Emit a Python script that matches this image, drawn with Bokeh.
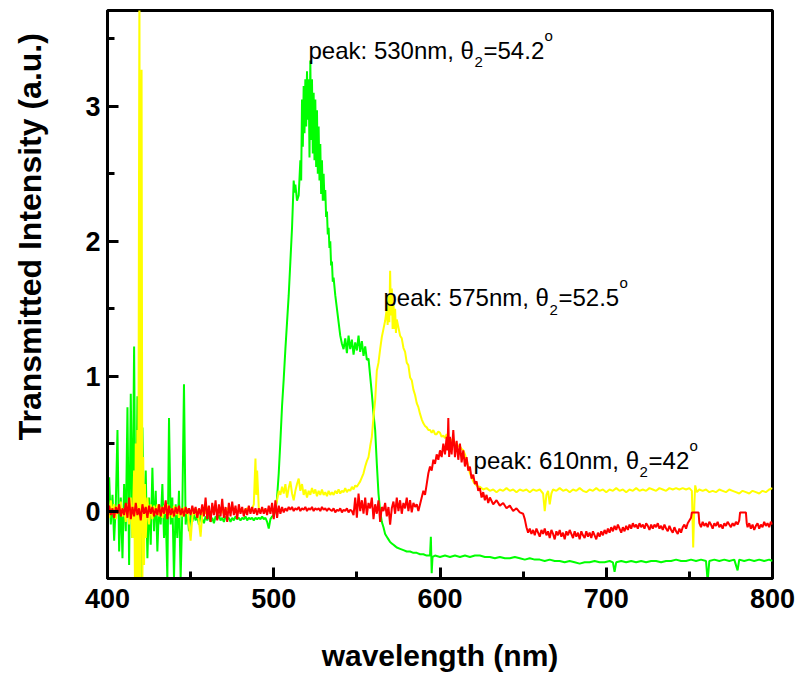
from bokeh.plotting import figure
from bokeh.models import Range1d, Label, FixedTicker
from bokeh.embed import file_html
from bokeh.resources import INLINE

# ---------------- data (wavelength nm, transmitted intensity a.u.) ----------------
green_pts = [
    (400,0.05),(401,0.25),(402,-0.1),(403,0.12),(404,-0.22),(405,0.05),(406,0.6),(407,-0.3),(408,0.1),(409,-0.35),
    (410,0.2),(411,-0.15),(412,0.77),(413,-0.4),(414,0.87),(415,-0.2),(416,1.22),(417,-0.5),(418,0.85),(419,-0.3),
    (420,-0.5),(421,0.62),(422,-0.2),(423,0.3),(424,-0.35),(425,0.1),(426,-0.25),(427,0.32),(428,-0.15),(429,0.15),
    (430,-0.3),(431,0.05),(432,-0.1),(433,0.2),(434,-0.2),(435,0.0),(436,-0.5),(437,0.69),(438,-0.1),(439,0.1),
    (440,-0.5),(441,0.05),(442,-0.2),(443,0.15),(444,-0.5),(445,0.0),(446,0.94),(447,-0.1),(448,0.02),(449,-0.15),
    (450,-0.03),(451,-0.08),(452,-0.02),(453,-0.07),(454,-0.04),(455,-0.1),(456,-0.03),(457,-0.06),(458,-0.09),(459,-0.04),
    (460,-0.07),(461,-0.03),(462,-0.08),(463,-0.05),(464,-0.09),(465,-0.04),(466,-0.06),(467,-0.03),(468,-0.07),(469,-0.05),
    (470,-0.08),(471,-0.04),(472,-0.06),(473,-0.05),(474,-0.08),(475,-0.05),(476,-0.07),(477,-0.04),(478,-0.06),(479,-0.05),
    (480,-0.07),(481,-0.05),(482,-0.06),(483,-0.04),(484,-0.07),(485,-0.05),(486,-0.06),(487,-0.05),(488,-0.07),(489,-0.05),
    (490,-0.06),(491,-0.05),(492,-0.06),(493,-0.04),(494,-0.06),(495,-0.05),(496,-0.08),(497,-0.13),(498,-0.06),(499,-0.04),
    (500,-0.03),(501,0.0),(502,0.1),(503,0.28),(504,0.52),(505,0.78),(506,0.98),(507,1.2),(508,1.4),(509,1.6),
    (510,1.85),(511,2.1),(512,2.45),(512.5,2.36),(513,2.42),(514,2.3),(515,2.34),(516,2.6),(516.5,2.45),(517,3.05),
    (517.5,2.7),(518,3.15),(518.5,2.8),(519,3.2),(519.5,2.85),(520,3.26),(520.5,2.9),(521,3.2),(521.5,2.62),(522,3.34),
    (522.5,2.75),(523,3.2),(523.5,2.65),(524,3.1),(524.5,2.6),(525,3.05),(525.5,2.55),(526,2.97),(526.5,2.5),(527,2.85),
    (527.5,2.45),(528,2.72),(528.5,2.35),(529,2.6),(529.5,2.3),(530,2.5),(530.5,2.3),(531,2.38),(531.5,2.18),(532,2.22),
    (532.5,2.05),(533,2.1),(533.5,1.95),(534,2.0),(534.5,1.82),(535,1.85),(535.5,1.7),(536,1.73),(537,1.6),(538,1.5),
    (539,1.4),(540,1.3),(541,1.24),(542,1.2),(543,1.28),(544,1.17),(545,1.3),(546,1.2),(547,1.27),(548,1.16),
    (549,1.25),(550,1.19),(551,1.3),(552,1.18),(553,1.26),(554,1.15),(555,1.22),(556,1.12),(557,1.13),(558,1.0),
    (559,0.87),(560,0.72),(561,0.6),(562,0.35),(563,0.13),(564,0.0),(565,-0.08),(566,-0.12),(567,-0.17),(568,-0.19),
    (569,-0.21),(570,-0.23),(571,-0.24),(572,-0.25),(573,-0.26),(574,-0.27),(576,-0.28),(578,-0.29),(580,-0.3),(582,-0.3),
    (584,-0.31),(586,-0.31),(588,-0.32),(590,-0.32),(592,-0.33),(594,-0.33),(594.5,-0.19),(595,-0.46),(595.5,-0.34),(597,-0.33),
    (600,-0.34),(603,-0.33),(606,-0.34),(609,-0.33),(612,-0.34),(615,-0.33),(618,-0.34),(621,-0.33),(624,-0.33),(627,-0.34),
    (630,-0.34),(633,-0.35),(636,-0.34),(639,-0.35),(642,-0.35),(645,-0.34),(648,-0.35),(651,-0.36),(654,-0.35),(657,-0.36),
    (660,-0.36),(663,-0.37),(666,-0.36),(669,-0.37),(672,-0.37),(675,-0.38),(678,-0.37),(681,-0.38),(684,-0.39),(687,-0.38),
    (690,-0.38),(693,-0.37),(696,-0.38),(699,-0.38),(702,-0.37),(704,-0.38),(705,-0.45),(706,-0.38),(709,-0.37),(712,-0.38),
    (715,-0.37),(718,-0.38),(721,-0.37),(724,-0.38),(727,-0.37),(730,-0.37),(733,-0.38),(736,-0.37),(739,-0.37),(742,-0.36),
    (745,-0.37),(748,-0.37),(751,-0.36),(754,-0.37),(757,-0.36),(760,-0.37),(761,-0.52),(762,-0.37),(765,-0.36),(768,-0.37),
    (771,-0.36),(774,-0.37),(777,-0.36),(779,-0.44),(780,-0.36),(783,-0.37),(786,-0.36),(789,-0.37),(792,-0.36),(795,-0.37),
    (798,-0.36),(800,-0.37),
]

yellow_pts = [
    (400,0.03),(401,-0.05),(402,0.08),(403,-0.02),(404,0.05),(405,-0.06),(406,0.04),(407,0.0),(408,0.07),(409,-0.04),
    (410,0.02),(411,-0.08),(412,0.05),(413,-0.1),(414,0.1),(415,-0.2),(416,0.3),(416.5,-0.5),(417,0.5),(417.5,-0.5),
    (418,0.6),(418.5,-0.5),(419.2,4.0),(419.6,-0.5),(420,0.45),(420.5,3.27),(421,-0.5),(421.5,0.4),(422,-0.4),(422.5,0.2),
    (423,-0.2),(424,0.1),(425,-0.1),(426,0.05),(427,-0.06),(428,0.04),(429,-0.03),(430,0.05),(431,-0.04),(432,0.03),
    (433,-0.05),(434,0.04),(435,-0.02),(436,0.05),(437,-0.04),(438,0.02),(439,-0.05),(440,0.04),(441,-0.03),(442,0.03),
    (443,-0.05),(444,0.02),(445,-0.04),(446,0.03),(447,-0.02),(448,0.02),(449,-0.1),(450,-0.22),(451,-0.05),(452,0.02),
    (453,-0.03),(454,0.01),(455,-0.08),(456,-0.19),(457,-0.02),(458,0.02),(459,-0.02),(460,0.03),(462,-0.02),(464,0.02),
    (466,-0.01),(468,0.02),(470,-0.02),(472,0.02),(474,0.0),(476,0.02),(478,-0.01),(480,0.01),(482,0.0),(484,0.02),
    (486,0.0),(487,0.02),(488,0.05),(489,0.39),(489.5,0.12),(490,0.3),(491,0.02),(492,0.0),(494,0.01),(496,0.0),
    (498,0.01),(500,0.0),(501,0.03),(502,0.08),(503,0.15),(504,0.12),(505,0.18),(506,0.13),(507,0.2),(508,0.1),
    (509,0.17),(510,0.22),(511,0.13),(512,0.08),(513,0.15),(514,0.2),(515,0.24),(516,0.15),(517,0.2),(518,0.12),
    (519,0.16),(520,0.1),(521,0.15),(522,0.12),(523,0.17),(524,0.13),(525,0.16),(526,0.11),(527,0.15),(528,0.12),
    (529,0.16),(530,0.12),(531,0.14),(532,0.11),(533,0.15),(534,0.12),(535,0.14),(536,0.12),(537,0.15),(538,0.13),
    (539,0.16),(540,0.13),(541,0.15),(542,0.14),(543,0.17),(544,0.14),(545,0.16),(546,0.15),(547,0.18),(548,0.16),
    (549,0.19),(550,0.18),(551,0.2),(552,0.22),(553,0.25),(554,0.28),(555,0.33),(556,0.37),(557,0.4),(558,0.48),
    (559,0.55),(560,0.7),(561,0.82),(562,1.04),(563,1.1),(564,1.2),(565,1.29),(566,1.35),(567,1.41),(568,1.5),
    (568.5,1.38),(569,1.6),(569.5,1.4),(570,1.78),(570.5,1.45),(571,1.65),(571.5,1.35),(572,1.55),(572.5,1.35),(573,1.5),
    (573.5,1.32),(574,1.42),(575,1.36),(576,1.3),(577,1.28),(578,1.21),(579,1.18),(580,1.1),(581,1.08),(582,0.99),
    (583,0.97),(584,0.9),(585,0.86),(586,0.8),(587,0.77),(588,0.72),(589,0.68),(590,0.65),(591,0.63),(592,0.62),
    (593,0.6),(594,0.6),(595,0.58),(596,0.6),(597,0.57),(598,0.57),(599,0.59),(600,0.58),(601,0.55),(602,0.56),
    (603,0.54),(604,0.57),(605,0.53),(606,0.54),(607,0.52),(608,0.53),(609,0.5),(610,0.5),(611,0.48),(612,0.48),
    (613,0.46),(614,0.45),(615,0.42),(616,0.38),(617,0.33),(618,0.28),(619,0.25),(620,0.22),(621,0.2),(622,0.19),
    (623,0.18),(624,0.18),(626,0.16),(628,0.17),(630,0.15),(632,0.16),(634,0.14),(636,0.16),(638,0.15),(640,0.17),
    (642,0.15),(644,0.16),(646,0.14),(648,0.16),(650,0.15),(652,0.16),(654,0.14),(656,0.16),(658,0.15),(660,0.16),
    (662,0.13),(663,0.0),(664,0.12),(665,0.15),(666,0.05),(667,0.13),(668,0.16),(670,0.15),(672,0.17),(674,0.15),
    (676,0.16),(678,0.14),(680,0.16),(682,0.15),(684,0.17),(686,0.15),(688,0.14),(690,0.16),(692,0.15),(694,0.17),
    (696,0.15),(698,0.16),(700,0.14),(702,0.16),(704,0.15),(706,0.17),(708,0.15),(710,0.16),(712,0.14),(714,0.16),
    (716,0.15),(718,0.17),(720,0.15),(722,0.16),(724,0.15),(726,0.17),(728,0.16),(730,0.15),(732,0.17),(734,0.16),
    (736,0.15),(738,0.17),(740,0.16),(742,0.17),(744,0.16),(746,0.17),(748,0.16),(750,0.17),(751.5,0.15),(752.3,-0.27),
    (753,0.05),(753.5,0.19),(754.5,0.14),(756,0.16),(758,0.15),(760,0.16),(762,0.14),(764,0.15),(766,0.14),(768,0.16),
    (770,0.15),(772,0.14),(774,0.16),(776,0.15),(778,0.14),(780,0.13),(782,0.15),(784,0.14),(786,0.13),(788,0.15),
    (790,0.14),(792,0.13),(794,0.15),(796,0.14),(798,0.16),(800,0.17),
]

red_pts = [
    (400,0.0),(401,0.04),(402,-0.03),(403,0.02),(404,-0.05),(405,0.03),(406,-0.02),(407,0.05),(408,-0.04),(409,0.02),
    (410,-0.03),(411,0.06),(412,-0.05),(413,0.1),(414,-0.06),(415,0.03),(416,-0.04),(417,0.06),(418,-0.03),(419,0.02),
    (420,-0.07),(421,0.05),(422,-0.02),(423,0.03),(424,-0.05),(425,0.04),(426,-0.02),(427,0.03),(428,-0.04),(429,0.02),
    (430,-0.03),(431,0.05),(432,-0.04),(433,0.03),(434,-0.02),(435,0.08),(436,-0.06),(437,0.04),(438,-0.03),(439,0.02),
    (440,-0.04),(441,0.03),(442,-0.02),(443,0.04),(444,-0.03),(445,0.02),(446,-0.04),(447,0.03),(448,-0.02),(449,0.02),
    (450,-0.03),(451,0.04),(452,-0.02),(453,0.03),(454,-0.05),(455,0.02),(456,-0.03),(457,0.05),(458,-0.04),(459,0.1),
    (460,-0.06),(461,0.04),(462,-0.08),(463,0.06),(464,-0.03),(465,0.08),(466,-0.07),(467,0.05),(468,-0.04),(469,0.09),
    (470,-0.05),(471,0.03),(472,-0.08),(473,0.06),(474,-0.04),(475,0.07),(476,-0.03),(477,0.04),(478,-0.06),(479,0.05),
    (480,-0.02),(481,0.03),(482,-0.04),(483,0.02),(484,-0.03),(485,0.04),(486,-0.02),(487,0.03),(488,-0.02),(489,0.02),
    (490,-0.03),(491,0.02),(492,-0.02),(493,0.03),(494,-0.02),(495,0.02),(496,-0.03),(497,0.04),(498,-0.02),(499,0.06),
    (500,-0.06),(501,0.08),(502,-0.05),(503,0.04),(504,-0.02),(505,0.03),(506,-0.01),(507,0.02),(508,0.0),(509,0.03),
    (510,0.01),(511,0.03),(512,0.0),(513,0.02),(514,0.01),(515,0.03),(516,0.0),(517,0.02),(518,0.01),(519,0.03),
    (520,0.0),(521,0.02),(522,0.01),(523,0.03),(524,0.0),(525,0.02),(526,0.01),(527,0.02),(528,0.0),(529,0.03),
    (530,0.01),(531,0.02),(532,0.0),(533,0.02),(534,0.01),(535,0.0),(536,0.02),(537,-0.01),(538,0.01),(539,0.0),
    (540,0.02),(541,-0.01),(542,0.01),(543,0.0),(544,0.02),(545,-0.01),(546,0.01),(547,0.0),(548,-0.03),(549,0.1),
    (550,-0.05),(551,0.13),(552,0.0),(553,0.08),(554,-0.02),(555,0.1),(556,-0.03),(557,0.06),(558,0.02),(559,0.1),
    (560,-0.06),(561,0.05),(562,-0.02),(563,0.08),(564,-0.08),(565,0.03),(566,0.0),(567,0.06),(568,-0.04),(569,0.03),
    (570,-0.1),(571,0.02),(572,0.07),(573,-0.02),(574,0.1),(575,0.0),(576,0.08),(577,-0.02),(578,0.06),(579,0.02),
    (580,0.1),(581,0.0),(582,0.08),(583,-0.01),(584,0.06),(585,0.03),(586,0.05),(587,0.0),(588,0.05),(589,0.1),
    (590,0.15),(591,0.12),(592,0.2),(593,0.28),(594,0.33),(595,0.3),(596,0.38),(597,0.35),(598,0.42),(599,0.38),
    (600,0.45),(601,0.4),(602,0.5),(603,0.42),(604,0.55),(604.5,0.45),(605,0.69),(605.5,0.4),(606,0.55),(607,0.42),
    (608,0.6),(609,0.4),(610,0.52),(611,0.38),(612,0.5),(613,0.36),(614,0.45),(615,0.33),(616,0.4),(617,0.3),
    (618,0.33),(619,0.24),(620,0.27),(621,0.2),(622,0.22),(623,0.15),(624,0.17),(625,0.1),(626,0.14),(627,0.08),
    (628,0.12),(629,0.06),(630,0.1),(632,0.05),(634,0.08),(636,0.04),(638,0.06),(640,0.02),(642,0.04),(644,0.0),
    (646,0.02),(648,-0.01),(650,-0.02),(651,-0.06),(652,-0.12),(653,-0.16),(654,-0.13),(655,-0.17),(656,-0.14),(657,-0.18),
    (658,-0.13),(659,-0.16),(660,-0.19),(661,-0.14),(662,-0.17),(663,-0.13),(664,-0.18),(665,-0.15),(666,-0.2),(667,-0.14),
    (668,-0.17),(669,-0.21),(670,-0.15),(671,-0.18),(672,-0.14),(673,-0.19),(674,-0.16),(675,-0.21),(676,-0.15),(677,-0.18),
    (678,-0.14),(679,-0.17),(680,-0.2),(681,-0.15),(682,-0.19),(683,-0.16),(684,-0.21),(685,-0.15),(686,-0.18),(687,-0.2),
    (688,-0.15),(689,-0.19),(690,-0.16),(691,-0.2),(692,-0.15),(693,-0.18),(694,-0.21),(695,-0.16),(696,-0.19),(697,-0.15),
    (698,-0.18),(699,-0.14),(700,-0.17),(701,-0.13),(702,-0.16),(703,-0.12),(704,-0.15),(705,-0.11),(706,-0.14),(707,-0.1),
    (708,-0.13),(709,-0.16),(710,-0.12),(711,-0.15),(712,-0.11),(713,-0.14),(714,-0.1),(715,-0.13),(716,-0.09),(717,-0.12),
    (718,-0.1),(719,-0.13),(720,-0.09),(721,-0.12),(722,-0.1),(723,-0.13),(724,-0.09),(725,-0.11),(726,-0.14),(727,-0.1),
    (728,-0.13),(729,-0.1),(730,-0.12),(731,-0.09),(732,-0.13),(733,-0.11),(734,-0.14),(735,-0.1),(736,-0.13),(737,-0.15),
    (738,-0.11),(739,-0.14),(740,-0.16),(741,-0.12),(742,-0.15),(743,-0.17),(744,-0.13),(745,-0.16),(746,-0.12),(747,-0.1),
    (748,-0.13),(749,-0.09),(750,-0.07),(751,-0.05),(751.5,-0.01),(755.5,-0.01),(756,-0.09),(757,-0.12),(758,-0.08),(759,-0.11),
    (760,-0.09),(761,-0.12),(762,-0.08),(763,-0.1),(764,-0.13),(765,-0.09),(766,-0.11),(767,-0.08),(768,-0.12),(769,-0.1),
    (770,-0.13),(771,-0.09),(772,-0.11),(773,-0.08),(774,-0.1),(775,-0.12),(776,-0.09),(777,-0.11),(778,-0.08),(779,-0.1),
    (780,-0.07),(780.5,-0.01),(784,-0.01),(784.5,-0.09),(785,-0.12),(786,-0.09),(787,-0.13),(788,-0.1),(789,-0.14),(790,-0.11),
    (791,-0.09),(792,-0.13),(793,-0.1),(794,-0.12),(795,-0.08),(796,-0.11),(797,-0.09),(798,-0.12),(799,-0.08),(800,-0.1),
]

green_wl = [a for a, b in green_pts]
green_int = [b for a, b in green_pts]
yellow_wl = [a for a, b in yellow_pts]
yellow_int = [b for a, b in yellow_pts]
red_wl = [a for a, b in red_pts]
red_int = [b for a, b in red_pts]

x_ticks = [400, 500, 600, 700, 800]
x_minor = [450, 550, 650, 750]
y_ticks = [0, 1, 2, 3]
y_minor = [0.5, 1.5, 2.5, 3.5]

x_title = "wavelength (nm)"
y_title = "Transmitted Intensity (a.u.)"

# peak annotations: (anchor wavelength, anchor intensity, peak nm, theta_2 value)
peaks = [
    (520.9, 3.415, "530", "54.2"),
    (566.0, 1.58, "575", "52.5"),
    (620.2, 0.378, "610", "42"),
]

# ---------------- figure ----------------
p = figure(width=797, height=678, output_backend="svg", toolbar_location=None,
           x_range=Range1d(400, 800), y_range=Range1d(-0.5, 3.71),
           min_border_left=107, min_border_right=25, min_border_top=10, min_border_bottom=100)
p.xgrid.visible = False
p.ygrid.visible = False
p.outline_line_color = "black"
p.outline_line_width = 3
p.background_fill_color = "white"
p.border_fill_color = "white"

AXFONT = "Liberation Sans"
for ax, ticks, minor in ((p.xaxis[0], x_ticks, x_minor), (p.yaxis[0], y_ticks, y_minor)):
    ax.ticker = FixedTicker(ticks=ticks, minor_ticks=minor)
    ax.axis_line_width = 3
    ax.major_tick_in = 11
    ax.major_tick_out = 0
    ax.minor_tick_in = 7
    ax.minor_tick_out = 0
    ax.major_tick_line_width = 3
    ax.minor_tick_line_width = 3
    ax.major_label_text_font = AXFONT
    ax.major_label_text_font_style = "bold"
    ax.major_label_text_font_size = "27px"
    ax.axis_label_text_font = AXFONT
    ax.axis_label_text_font_style = "bold"
    ax.axis_label_text_color = "black"
    ax.major_label_text_color = "black"

p.xaxis.axis_label = x_title
p.xaxis.axis_label_text_font_size = "30px"
p.xaxis.major_label_standoff = 10
p.xaxis.axis_label_standoff = 28

# leading no-break spaces shift the centred y title upwards, as in the original
p.yaxis.axis_label = "\u00a0" * 13 + y_title
p.yaxis.axis_label_text_font_size = "32px"
p.yaxis.major_label_standoff = 7
p.yaxis.axis_label_standoff = 34

p.line(green_wl, green_int, line_color="#00FF00", line_width=2)
p.line(yellow_wl, yellow_int, line_color="#FFFF00", line_width=2)
p.line(red_wl, red_int, line_color="#FF0000", line_width=2)

FONT = "Liberation Sans"
for x, y, nm, th in peaks:
    p.add_layout(Label(x=x, y=y, text=f"peak: {nm}nm, \u03b8", text_font=FONT,
                       text_font_size="24px", text_baseline="alphabetic", text_color="black"))
    p.add_layout(Label(x=x, y=y, x_offset=166, y_offset=-12, text="2", text_font=FONT,
                       text_font_size="15px", text_baseline="alphabetic", text_color="black"))
    p.add_layout(Label(x=x, y=y, x_offset=175, text=f"={th}", text_font=FONT,
                       text_font_size="24px", text_baseline="alphabetic", text_color="black"))
    w = {"54.2": 61, "52.5": 61, "42": 41}[th]
    p.add_layout(Label(x=x, y=y, x_offset=175 + w, y_offset=15, text="o", text_font=FONT,
                       text_font_size="15px", text_baseline="alphabetic", text_color="black"))

open("out.html", "w").write(file_html(p, INLINE))
